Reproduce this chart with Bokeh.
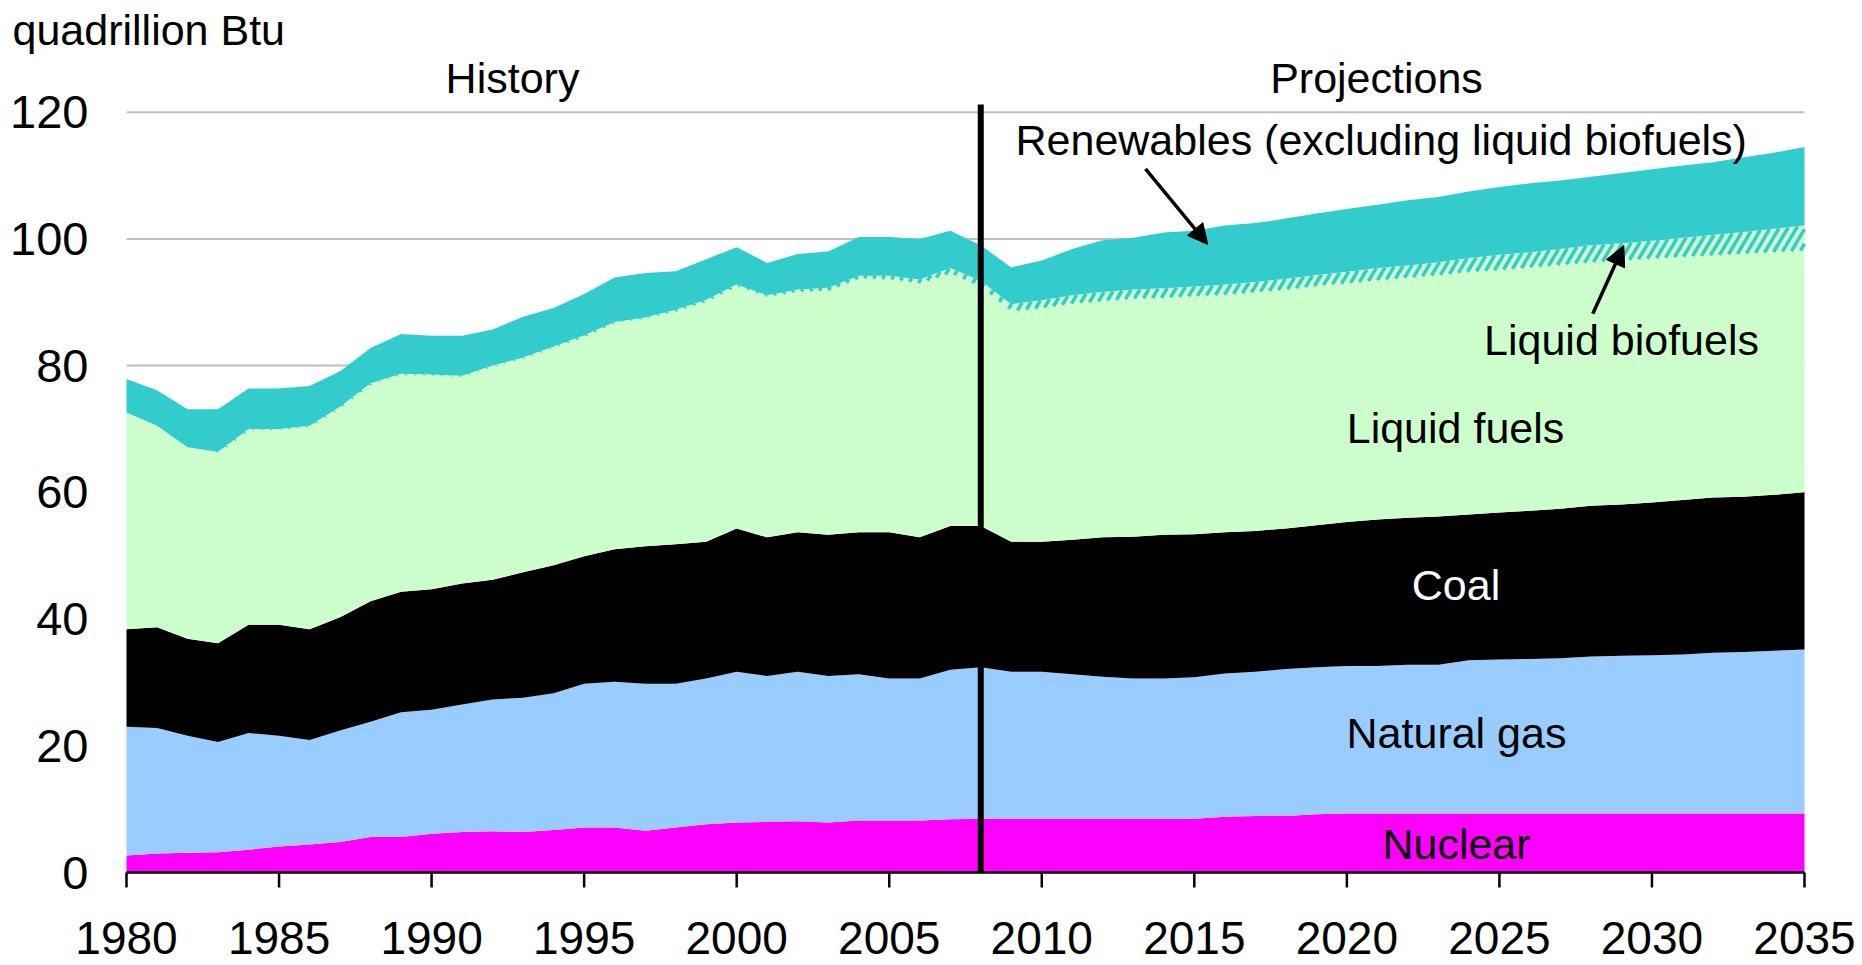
import numpy as np
from bokeh.plotting import figure
from bokeh.models import ColumnDataSource, Range1d, Label, Arrow, NormalHead
from bokeh.core.properties import value
from bokeh.embed import file_html
from bokeh.resources import INLINE

# ---------------- data (quadrillion Btu) ----------------
years = list(range(1980, 2036))

nuclear = [
    2.7, 3.0, 3.1, 3.2, 3.6, 4.1, 4.4, 4.8, 5.6, 5.6,
    6.1, 6.4, 6.5, 6.4, 6.7, 7.1, 7.1, 6.6, 7.1, 7.6,
    7.9, 8.0, 8.1, 7.9, 8.2, 8.2, 8.2, 8.4, 8.5, 8.5,
    8.5, 8.5, 8.5, 8.5, 8.5, 8.5, 8.8, 8.9, 8.9, 9.2,
    9.3, 9.3, 9.3, 9.3, 9.3, 9.3, 9.3, 9.3, 9.3, 9.3,
    9.3, 9.3, 9.3, 9.3, 9.3, 9.3]

natural_gas = [
    20.3, 19.8, 18.5, 17.4, 18.4, 17.5, 16.5, 17.6, 18.2, 19.7,
    19.6, 20.1, 20.8, 21.2, 21.6, 22.7, 23.0, 23.2, 22.7, 23.0,
    23.8, 23.0, 23.6, 23.1, 23.1, 22.4, 22.4, 23.6, 23.9, 23.2,
    23.2, 22.8, 22.4, 22.1, 22.1, 22.3, 22.6, 22.8, 23.2, 23.2,
    23.3, 23.3, 23.5, 23.5, 24.2, 24.3, 24.4, 24.5, 24.8, 24.9,
    25.0, 25.1, 25.4, 25.5, 25.7, 25.9]

coal = [
    15.4, 15.9, 15.3, 15.6, 17.1, 17.5, 17.5, 17.9, 19.0, 19.0,
    19.0, 19.1, 18.9, 19.8, 20.2, 20.1, 20.9, 21.7, 22.0, 21.6,
    22.6, 21.9, 22.0, 22.3, 22.4, 23.1, 22.3, 22.7, 22.3, 20.5,
    20.5, 21.2, 22.0, 22.4, 22.7, 22.6, 22.3, 22.2, 22.2, 22.4,
    22.7, 23.1, 23.2, 23.4, 23.0, 23.2, 23.4, 23.6, 23.8, 23.9,
    24.1, 24.4, 24.5, 24.5, 24.6, 24.8]

liquid_fuels = [
    34.2, 31.8, 30.2, 30.1, 30.8, 30.8, 32.0, 33.1, 34.3, 34.3,
    33.8, 32.7, 33.7, 33.8, 34.4, 34.7, 35.8, 36.0, 36.8, 38.0,
    38.3, 38.0, 38.0, 38.6, 40.1, 40.0, 40.1, 39.9, 37.7, 36.4,
    36.9, 37.3, 37.3, 37.6, 37.4, 37.6, 37.5, 37.7, 37.7, 37.8,
    37.7, 37.8, 37.9, 38.1, 38.3, 38.3, 38.4, 38.5, 38.4, 38.5,
    38.5, 38.4, 38.2, 38.4, 38.3, 38.2]

liquid_biofuels = [
    0.0, 0.0, 0.0, 0.1, 0.1, 0.1, 0.1, 0.1, 0.1, 0.1,
    0.1, 0.1, 0.1, 0.1, 0.1, 0.2, 0.1, 0.1, 0.2, 0.2,
    0.2, 0.2, 0.3, 0.4, 0.4, 0.5, 0.6, 0.8, 1.0, 1.1,
    1.2, 1.3, 1.4, 1.4, 1.5, 1.5, 1.6, 1.6, 1.7, 1.7,
    1.8, 1.9, 1.9, 2.0, 2.2, 2.4, 2.4, 2.5, 2.7, 2.7,
    2.8, 3.0, 3.2, 3.4, 3.7, 3.9]

renewables = [
    5.3, 5.6, 6.0, 6.7, 6.4, 6.4, 6.3, 5.6, 5.6, 6.3,
    6.1, 6.3, 5.7, 6.4, 6.1, 6.5, 7.0, 7.0, 6.1, 6.4,
    5.9, 5.1, 5.6, 5.7, 6.1, 6.1, 6.4, 5.9, 5.6, 5.8,
    6.3, 7.3, 8.2, 8.2, 8.8, 8.8, 9.3, 9.3, 9.5, 9.7,
    9.9, 10.0, 10.3, 10.3, 10.5, 10.7, 10.9, 10.8, 10.8, 11.1,
    11.3, 11.4, 11.5, 11.8, 12.0, 12.4]

y_ticks = [0, 20, 40, 60, 80, 100, 120]
x_ticks = [1980, 1985, 1990, 1995, 2000, 2005, 2010, 2015, 2020, 2025, 2030, 2035]
last_history_year = 2008
unit_label = "quadrillion Btu"

# ---------------- layout constants (canvas pixels) ----------------
W, H = 1862, 965
X0_PX, X1_PX = 126, 1804        # canvas x of 1980 and 2035
Y0_PX = 872                      # canvas y of value 0
PX_PER_Q = 6.336                 # pixels per quadrillion Btu
PX_PER_YEAR = (X1_PX - X0_PX) / 55.0
FONT = "Liberation Sans"
TEAL = "#33CCCC"
HATCH_STEP_PX = 9.0              # horizontal spacing of the hatch stripes
HATCH_SLOPE = 1.7                # stripe rise per pixel run (screen pixels)


def dx(cx):
    return 1980 + (cx - X0_PX) / PX_PER_YEAR


def dy(cy):
    return (Y0_PX - cy) / PX_PER_Q


series = [
    ("Nuclear", nuclear, "#FF00FF"),
    ("Natural gas", natural_gas, "#99CCFF"),
    ("Coal", coal, "#000000"),
    ("Liquid fuels", liquid_fuels, "#CCFFCC"),
    ("Liquid biofuels", liquid_biofuels, "#CCFFCC"),
    ("Renewables", renewables, TEAL),
]

p = figure(width=W, height=H, output_backend="svg", toolbar_location=None,
           x_range=Range1d(dx(0), dx(W)), y_range=Range1d(dy(H), dy(0)),
           x_axis_location=None, y_axis_location=None,
           min_border=0)
p.outline_line_color = None
p.background_fill_color = "white"
p.border_fill_color = "white"
p.grid.visible = False

# horizontal gridlines (under the areas)
p.segment(x0=[years[0]] * len(y_ticks), x1=[years[-1]] * len(y_ticks),
          y0=y_ticks, y1=y_ticks, line_color="#C0C0C0", line_width=2)


def hatch_stripes(lower, upper):
    """Diagonal '/' stripes filling the band between two data curves."""
    xs = np.array(years, dtype=float)
    x0s, y0s, x1s, y1s = [], [], [], []
    run = np.arange(0, 60, 0.25)                       # pixel run along a stripe
    for s_px in np.arange(X0_PX, X1_PX, HATCH_STEP_PX):
        xd = dx(s_px + run)
        inside = xd <= xs[-1]
        xd, r = xd[inside], run[inside]
        lo = np.interp(xd[0], xs, lower)
        v = lo + r * HATCH_SLOPE / PX_PER_Q
        up = np.interp(xd, xs, upper)
        above = np.nonzero(v >= up)[0]
        k = above[0] if len(above) else len(v) - 1
        if k == 0:
            continue
        x0s.append(xd[0]); y0s.append(lo)
        x1s.append(xd[k]); y1s.append(min(v[k], up[k]))
    p.segment(x0=x0s, y0=y0s, x1=x1s, y1=y1s, line_color=TEAL, line_width=3.5,
              line_cap="butt")


# stacked areas
base = np.zeros(len(years))
for name, vals, color in series:
    top = base + np.array(vals, dtype=float)
    src = ColumnDataSource(dict(x=years, y1=base.copy(), y2=top.copy()))
    p.varea(x="x", y1="y1", y2="y2", source=src, fill_color=color)
    if name == "Liquid biofuels":
        hatch_stripes(base.copy(), top.copy())
    base = top

# x axis: line, ticks, labels
p.segment(x0=[years[0]], x1=[years[-1]], y0=[0], y1=[0], line_color="black", line_width=2.5)
p.segment(x0=x_ticks, x1=x_ticks, y0=[0] * len(x_ticks), y1=[dy(Y0_PX + 15)] * len(x_ticks),
          line_color="black", line_width=2.5)
p.text(x=x_ticks, y=[dy(937)] * len(x_ticks), text=[str(t) for t in x_ticks],
       text_font=value(FONT), text_font_size="46px", text_color="black",
       text_align="center", text_baseline="middle")

# y axis labels
p.text(x=[dx(88)] * len(y_ticks), y=y_ticks, text=[str(t) for t in y_ticks],
       text_font=value(FONT), text_font_size="47px", text_color="black",
       text_align="right", text_baseline="middle")

# history / projection divider
p.segment(x0=[last_history_year], y0=[0], x1=[last_history_year], y1=[dy(104)],
          line_color="black", line_width=6)


def label(text, cx, cy, color="black", align="center"):
    p.add_layout(Label(x=dx(cx), y=dy(cy), text=text, text_font=FONT,
                       text_font_size="43px", text_color=color,
                       text_align=align, text_baseline="middle"))


label(unit_label, 12, 29, align="left")
label("History", 512, 77)
label("Projections", 1376, 77)
label("Renewables (excluding liquid biofuels)", 1015, 139.7, align="left")
label("Liquid biofuels", 1621, 339)
label("Liquid fuels", 1455, 427.5)
label("Coal", 1455.5, 584, color="white")
label("Natural gas", 1456, 732.5)
label("Nuclear", 1456, 843.5)

for (x0, y0, x1, y1) in [(1145, 168.3, 1207.3, 244), (1592.3, 313.3, 1623.3, 245)]:
    p.add_layout(Arrow(end=NormalHead(size=20, fill_color="black", line_color="black"),
                       x_start=dx(x0), y_start=dy(y0), x_end=dx(x1), y_end=dy(y1),
                       line_color="black", line_width=3.5))

open("out.html", "w").write(file_html(p, INLINE))
